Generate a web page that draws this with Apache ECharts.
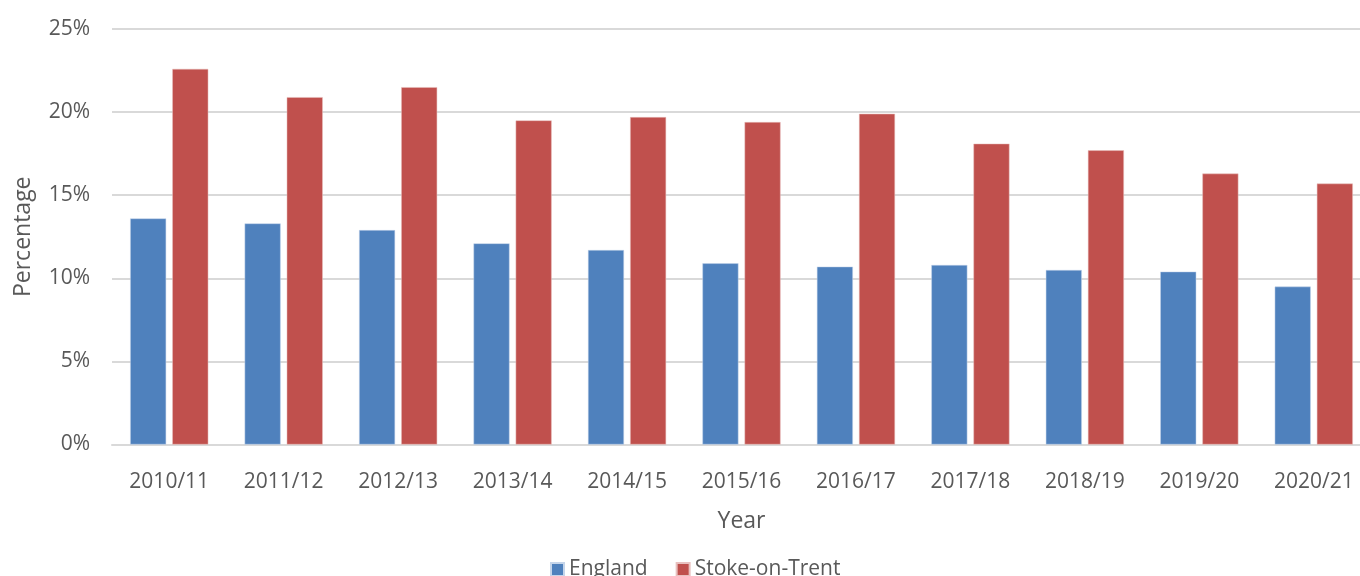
<!DOCTYPE html>
<html>
<head>
<meta charset="utf-8">
<script src="https://cdn.jsdelivr.net/npm/echarts@6/dist/echarts.min.js"></script>
<style>
html,body{margin:0;padding:0;background:#fff;overflow:hidden;}
#chart{width:1380px;height:576px;}
</style>
</head>
<body>
<div id="chart"></div>
<script>
const years = ['2010/11','2011/12','2012/13','2013/14','2014/15','2015/16','2016/17','2017/18','2018/19','2019/20','2020/21'];
const england = [13.6, 13.3, 12.9, 12.1, 11.7, 10.9, 10.7, 10.8, 10.5, 10.4, 9.5];
const stoke = [22.6, 20.9, 21.5, 19.5, 19.7, 19.4, 19.9, 18.1, 17.7, 16.3, 15.7];
const seriesNames = ['England', 'Stoke-on-Trent'];

const font = '"Open Sans", sans-serif';
const chart = echarts.init(document.getElementById('chart'), null, {renderer: 'canvas'});
chart.setOption({
  animation: false,
  backgroundColor: '#ffffff',
  grid: {left: 112, width: 1259, top: 29, bottom: 131.5, containLabel: false},
  legend: {
    data: seriesNames,
    left: 545, top: 554,
    itemWidth: 13, itemHeight: 13, itemGap: 28,
    icon: 'rect',
    textStyle: {fontFamily: font, fontSize: 21, color: '#595959'}
  },
  xAxis: {
    type: 'category',
    data: years,
    name: 'Year',
    nameLocation: 'middle',
    nameGap: 65,
    nameTextStyle: {fontFamily: font, fontSize: 23, color: '#595959'},
    axisLine: {lineStyle: {color: '#d9d9d9', width: 2}},
    axisTick: {show: false},
    axisLabel: {fontFamily: font, fontSize: 21, color: '#595959', margin: 27}
  },
  yAxis: {
    type: 'value',
    min: 0, max: 25, interval: 5,
    name: 'Percentage',
    nameLocation: 'middle',
    nameGap: 77,
    nameTextStyle: {fontFamily: font, fontSize: 23, color: '#595959'},
    axisLine: {show: false},
    axisTick: {show: false},
    axisLabel: {fontFamily: font, fontSize: 21, color: '#595959', margin: 22, formatter: '{value}%'},
    splitLine: {lineStyle: {color: '#d9d9d9', width: 2}}
  },
  series: [
    {name: seriesNames[0], type: 'bar', data: england, barWidth: 36, barGap: '17%',
     itemStyle: {color: '#4f81bd', borderColor: '#c5d5ea', borderWidth: 0.5}},
    {name: seriesNames[1], type: 'bar', data: stoke, barWidth: 36, barGap: '17%',
     itemStyle: {color: '#c0504d', borderColor: '#e8c0bf', borderWidth: 0.5}}
  ]
});
</script>
</body>
</html>
